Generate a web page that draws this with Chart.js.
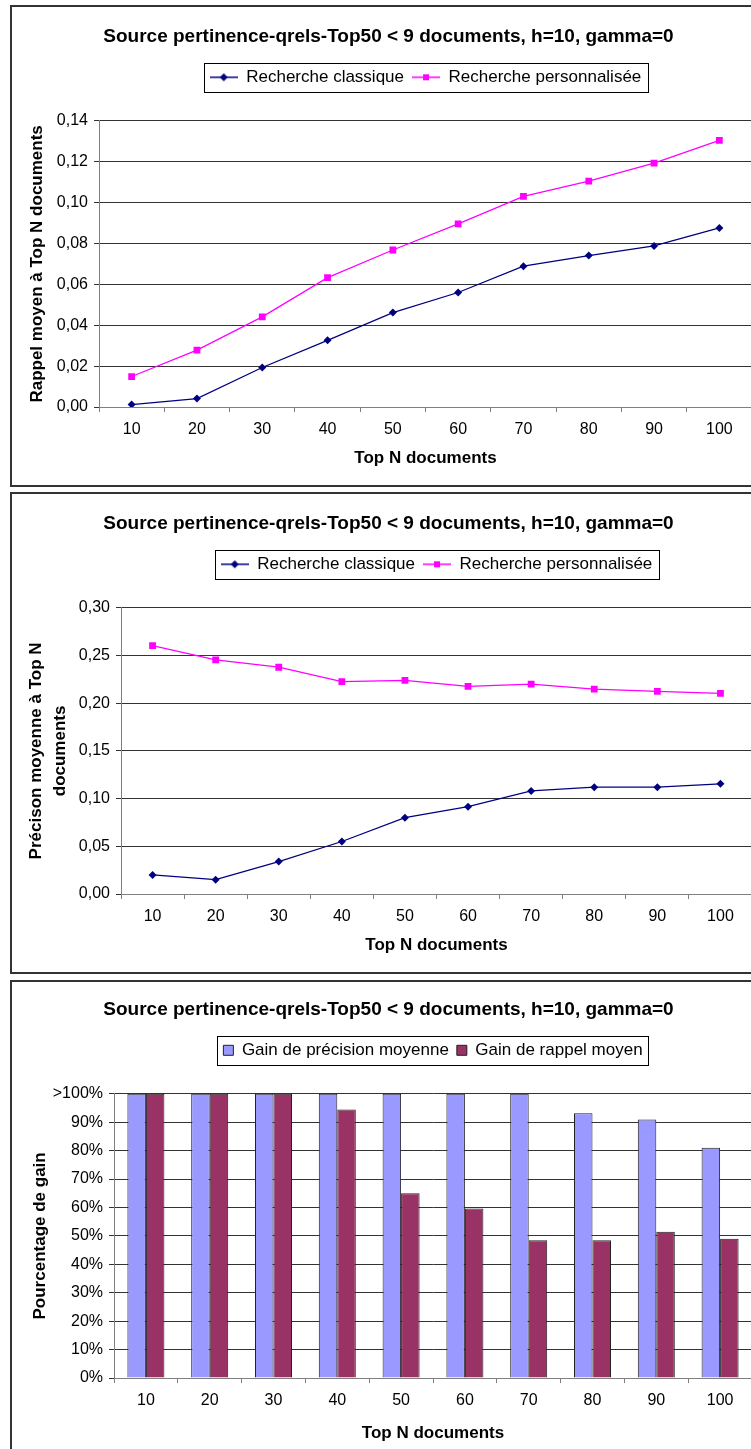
<!DOCTYPE html>
<html lang="fr">
<head>
<meta charset="utf-8">
<title>Source pertinence-qrels-Top50 &lt; 9 documents</title>
<script src="https://cdn.jsdelivr.net/npm/chart.js@4.4.1/dist/chart.umd.min.js"></script>
<style>
  html, body { margin: 0; padding: 0; background: #fff; overflow: hidden; }
  .panel {
    position: absolute;
    left: 10px;
    width: 757px;
    height: 482px;
    border: 2px solid #333;
    box-sizing: border-box;
    background: #fff;
  }
  .panel canvas { display: block; }
</style>
</head>
<body>
<div class="panel" style="top:5px"><canvas id="rappelChart" width="753" height="478"></canvas></div>
<div class="panel" style="top:492px"><canvas id="precisionChart" width="753" height="478"></canvas></div>
<div class="panel" style="top:980px"><canvas id="gainChart" width="753" height="478"></canvas></div>

<script>
  const topN = ["10", "20", "30", "40", "50", "60", "70", "80", "90", "100"];

  // rappel moyen
  const rappelClassique = [0.0012, 0.0041, 0.0193, 0.0326, 0.0462, 0.056, 0.0689, 0.0741, 0.0788, 0.0876];
  const rappelPerso = [0.0149, 0.0278, 0.0441, 0.0633, 0.0768, 0.0896, 0.103, 0.1105, 0.1193, 0.1304];
  const rappelTicks = ["0,00", "0,02", "0,04", "0,06", "0,08", "0,10", "0,12", "0,14"];

  // precision moyenne
  const precisionClassique = [0.02, 0.015, 0.034, 0.055, 0.08, 0.0915, 0.108, 0.112, 0.112, 0.1155];
  const precisionPerso = [0.2604, 0.2454, 0.2377, 0.2226, 0.224, 0.2177, 0.2201, 0.2148, 0.2124, 0.2103];
  const precisionTicks = ["0,00", "0,05", "0,10", "0,15", "0,20", "0,25", "0,30"];

  // gain en % (les barres au-dela de 100% sont coupees a ">100%")
  const gainPrecision = [100, 100, 100, 100, 100, 100, 100, 93.2, 91, 81];
  const gainRappel = [100, 100, 100, 94.5, 65, 59.6, 48.5, 48.5, 51.5, 49];
  const gainTicks = ["0%", "10%", "20%", "30%", "40%", "50%", "60%", "70%", "80%", "90%", ">100%"];

  const titre = "Source pertinence-qrels-Top50 < 9 documents, h=10, gamma=0";

  Chart.defaults.font.family = "'Liberation Sans', Arial, sans-serif";
  Chart.defaults.color = "#000";

  // legend with a frame around it, and some space under it
  function legendFrame(gap) {
    return {
      id: "legendFrame",
      beforeUpdate(chart) {
        const legend = chart.legend;
        if (!legend || legend._gapDone) return;
        const fit = legend.fit;
        legend.fit = function () {
          fit.call(this);
          this.height += gap;
        };
        legend._gapDone = true;
      },
      afterDraw(chart) {
        const boxes = chart.legend && chart.legend.legendHitBoxes;
        if (!boxes || !boxes.length) return;
        const ctx = chart.ctx;
        const left = Math.min(...boxes.map((b) => b.left)) - 6;
        const right = Math.max(...boxes.map((b) => b.left + b.width)) + 6;
        const top = boxes[0].top - 6;
        const bottom = boxes[0].top + boxes[0].height + 6;
        ctx.save();
        ctx.strokeStyle = "#000";
        ctx.lineWidth = 1;
        ctx.strokeRect(Math.round(left) + 0.5, Math.round(top) + 0.5, Math.round(right - left), Math.round(bottom - top));
        ctx.restore();
      },
    };
  }

  // small line + marker picture for the legend
  function lineMarker(color, shape) {
    const c = document.createElement("canvas");
    c.width = 28;
    c.height = 10;
    const g = c.getContext("2d");
    g.strokeStyle = color;
    g.lineWidth = 1.5;
    g.beginPath();
    g.moveTo(0, 5);
    g.lineTo(28, 5);
    g.stroke();
    g.fillStyle = color;
    g.beginPath();
    if (shape === "diamond") {
      g.moveTo(14, 1);
      g.lineTo(18, 5);
      g.lineTo(14, 9);
      g.lineTo(10, 5);
      g.closePath();
    } else {
      g.rect(11, 2, 6, 6);
    }
    g.fill();
    return c;
  }

  const markers = [lineMarker("#000080", "diamond"), lineMarker("#FF00FF", "square")];

  // padding left = padding right so the title stays centred on the panel
  const sidePad = { top: 0, right: 13, bottom: 0, left: 13 };

  function lineChart(id, classique, perso, tickLabels, max, step, yTitle, yWidth, yTitleOpts) {
    return new Chart(document.getElementById(id), {
      type: "line",
      data: {
        labels: topN,
        datasets: [
          {
            label: "Recherche classique",
            data: classique,
            borderColor: "#000080",
            backgroundColor: "#000080",
            borderWidth: 1.25,
            pointStyle: "rectRot",
            pointRadius: 4,
            pointBorderWidth: 0,
            tension: 0,
          },
          {
            label: "Recherche personnalisée",
            data: perso,
            borderColor: "#FF00FF",
            backgroundColor: "#FF00FF",
            borderWidth: 1.25,
            pointStyle: "rect",
            pointRadius: 4.8,
            pointBorderWidth: 0,
            tension: 0,
          },
        ],
      },
      options: {
        responsive: false,
        animation: false,
        layout: { padding: sidePad },
        plugins: {
          title: {
            display: true,
            text: titre,
            font: { size: 19, weight: "bold" },
            padding: { top: 18, bottom: 13 },
          },
          legend: {
            fullSize: false,
            labels: {
              usePointStyle: true,
              pointStyleWidth: 28,
              padding: 8,
              font: { size: 17 },
              generateLabels: function (chart) {
                const items = Chart.defaults.plugins.legend.labels.generateLabels(chart);
                items.forEach((item, i) => {
                  item.pointStyle = markers[i];
                });
                return items;
              },
            },
          },
          tooltip: { enabled: false },
        },
        scales: {
          x: {
            offset: true,
            grid: { offset: true, drawOnChartArea: false, tickLength: 5, color: "#808080" },
            border: { color: "#808080" },
            ticks: { font: { size: 16 }, padding: 8 },
            title: {
              display: true,
              text: "Top N documents",
              font: { size: 17, weight: "bold" },
              padding: { bottom: 16 },
            },
            afterFit: function (scale) {
              scale.height = 78;
            },
          },
          y: {
            min: 0,
            max: max,
            ticks: {
              stepSize: step,
              font: { size: 16 },
              padding: 6,
              callback: function (value, index) {
                return tickLabels[index];
              },
            },
            grid: { color: "#333", tickLength: 5 },
            border: { color: "#808080" },
            title: Object.assign(
              { display: true, text: yTitle },
              yTitleOpts
            ),
            afterFit: function (scale) {
              scale.width = yWidth;
            },
          },
        },
      },
      plugins: [legendFrame(25)],
    });
  }

  lineChart(
    "rappelChart",
    rappelClassique,
    rappelPerso,
    rappelTicks,
    0.14,
    0.02,
    "Rappel moyen à Top N documents",
    74,
    { font: { size: 17, weight: "bold" }, padding: { top: 2 } }
  );

  lineChart(
    "precisionChart",
    precisionClassique,
    precisionPerso,
    precisionTicks,
    0.3,
    0.05,
    ["Précison moyenne à Top N", "documents"],
    96,
    { font: { size: 17, weight: "bold", lineHeight: 1.37 }, padding: { top: 0 } }
  );

  new Chart(document.getElementById("gainChart"), {
    type: "bar",
    data: {
      labels: topN,
      datasets: [
        {
          label: "Gain de précision moyenne",
          data: gainPrecision,
          backgroundColor: "#9999FF",
          borderColor: "#222",
          borderWidth: 1,
          categoryPercentage: 0.58,
          barPercentage: 1,
        },
        {
          label: "Gain de rappel moyen",
          data: gainRappel,
          backgroundColor: "#993366",
          borderColor: "#222",
          borderWidth: 1,
          categoryPercentage: 0.58,
          barPercentage: 1,
        },
      ],
    },
    options: {
      responsive: false,
      animation: false,
      layout: { padding: sidePad },
      plugins: {
        title: {
          display: true,
          text: titre,
          font: { size: 19, weight: "bold" },
          padding: { top: 16, bottom: 13 },
        },
        legend: {
          fullSize: false,
          labels: {
            boxWidth: 10,
            boxHeight: 10,
            padding: 8,
            font: { size: 17 },
          },
        },
        tooltip: { enabled: false },
      },
      scales: {
        x: {
          grid: { offset: true, drawOnChartArea: false, tickLength: 5, color: "#808080" },
          border: { color: "#808080" },
          ticks: { font: { size: 16 }, padding: 8 },
          title: {
            display: true,
            text: "Top N documents",
            font: { size: 17, weight: "bold" },
            padding: { bottom: 16 },
          },
          afterFit: function (scale) {
            scale.height = 82;
          },
        },
        y: {
          min: 0,
          max: 100,
          ticks: {
            stepSize: 10,
            font: { size: 16 },
            padding: 6,
            callback: function (value, index) {
              return gainTicks[index];
            },
          },
          grid: { color: "#333", tickLength: 5 },
          border: { color: "#808080" },
          title: {
            display: true,
            text: "Pourcentage de gain",
            font: { size: 17, weight: "bold" },
            padding: { top: 5 },
          },
          afterFit: function (scale) {
            scale.width = 89;
          },
        },
      },
    },
    plugins: [legendFrame(25)],
  });
</script>
</body>
</html>
